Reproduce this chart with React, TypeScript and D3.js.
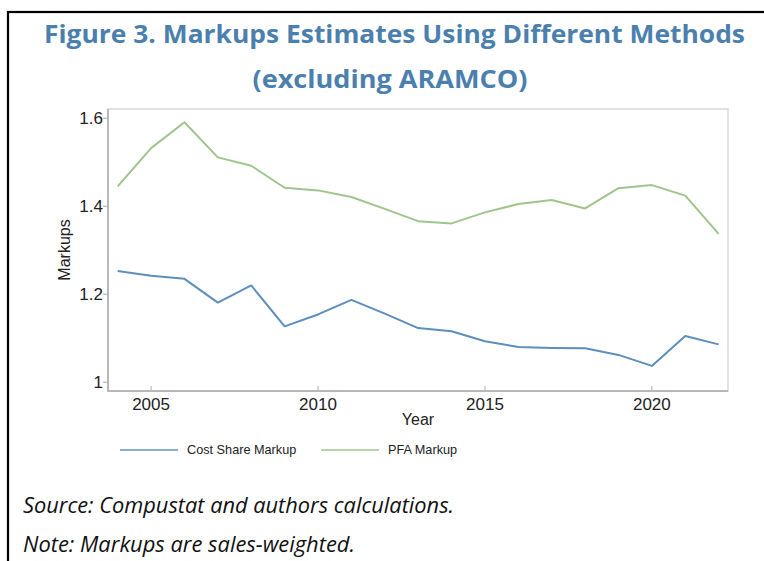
import React from 'react';
import * as d3 from 'd3';

const years = [2004, 2005, 2006, 2007, 2008, 2009, 2010, 2011, 2012, 2013, 2014, 2015, 2016, 2017, 2018, 2019, 2020, 2021, 2022];
const costShareMarkup = [1.253, 1.242, 1.235, 1.181, 1.220, 1.127, 1.154, 1.187, 1.156, 1.123, 1.116, 1.093, 1.080, 1.078, 1.077, 1.062, 1.037, 1.105, 1.086];
const pfaMarkup = [1.445, 1.532, 1.591, 1.511, 1.492, 1.442, 1.436, 1.421, 1.394, 1.366, 1.361, 1.386, 1.405, 1.414, 1.395, 1.441, 1.448, 1.424, 1.337];
const xTicks = [2005, 2010, 2015, 2020];
const yTicks = [1, 1.2, 1.4, 1.6];
const seriesNames = ['Cost Share Markup', 'PFA Markup'];

const W = 764;
const H = 561;
const plot = { left: 108, right: 728, top: 109, bottom: 391 };

const BLUE = '#5c8ebe';
const GREEN = '#9fc48c';
const TITLE = '#4b7fae';
const AXIS = '#b8b8b8';

function App() {
  const x = d3.scaleLinear().domain([2003.71, 2022.28]).range([plot.left, plot.right]);
  const y = d3.scaleLinear().domain([0.98, 1.621]).range([plot.bottom, plot.top]);

  const line = d3.line<number>()
    .x((_, i) => x(years[i]))
    .y(d => y(d));

  const tickFont = { fontFamily: '"Liberation Sans", Arial, sans-serif', fontSize: 17, fill: '#222' };

  return (
    <svg width={W} height={H} style={{ position: 'absolute', left: 0, top: 0, background: '#fff' }}>
      {/* outer frame, runs off the page on the right and bottom */}
      <rect x={8} y={12} width={W + 20} height={H + 20} fill="#fff" stroke="#000" strokeWidth={2.2} />

      {/* title */}
      <g fontFamily='"Open Sans", sans-serif' fontWeight="bold" fill={TITLE} fontSize={25}>
        <text x={44} y={43} textLength={701} lengthAdjust="spacingAndGlyphs">
          Figure 3. Markups Estimates Using Different Methods
        </text>
        <text x={390} y={88} textAnchor="middle" textLength={275} lengthAdjust="spacingAndGlyphs">
          (excluding ARAMCO)
        </text>
      </g>

      {/* plot frame */}
      <rect x={plot.left} y={plot.top} width={plot.right - plot.left} height={plot.bottom - plot.top}
        fill="#fff" stroke="#d9d9d9" strokeWidth={1.5} />
      <line x1={plot.left} x2={plot.left} y1={plot.top} y2={plot.bottom + 1} stroke={AXIS} strokeWidth={2} />
      <line x1={plot.left} x2={plot.right} y1={plot.bottom} y2={plot.bottom} stroke={AXIS} strokeWidth={2} />

      {/* y axis */}
      {yTicks.map(t => (
        <g key={t}>
          <line x1={plot.left - 5} x2={plot.left} y1={y(t)} y2={y(t)} stroke={AXIS} strokeWidth={1.2} />
          <text x={plot.left - 5} y={y(t) + 6} textAnchor="end" {...tickFont}>{d3.format('~g')(t)}</text>
        </g>
      ))}
      <text transform={`translate(70,${(plot.top + plot.bottom) / 2}) rotate(-90)`} textAnchor="middle"
        fontFamily='"Liberation Sans", Arial, sans-serif' fontSize={16} fill="#222">Markups</text>

      {/* x axis */}
      {xTicks.map(t => (
        <g key={t}>
          <line x1={x(t)} x2={x(t)} y1={plot.bottom - 5} y2={plot.bottom} stroke={AXIS} strokeWidth={1.2} />
          <text x={x(t)} y={410} textAnchor="middle" {...tickFont}>{t}</text>
        </g>
      ))}
      <text x={(plot.left + plot.right) / 2} y={425} textAnchor="middle"
        fontFamily='"Liberation Sans", Arial, sans-serif' fontSize={16} fill="#222">Year</text>

      {/* series */}
      <path d={line(pfaMarkup) || ''} fill="none" stroke={GREEN} strokeWidth={2} strokeLinejoin="round" />
      <path d={line(costShareMarkup) || ''} fill="none" stroke={BLUE} strokeWidth={2} strokeLinejoin="round" />

      {/* legend */}
      <g fontFamily='"Liberation Sans", Arial, sans-serif' fontSize={12.7} fill="#222">
        <line x1={120} x2={178} y1={450} y2={450} stroke="#8aafd2" strokeWidth={2} />
        <text x={187} y={454}>{seriesNames[0]}</text>
        <line x1={321} x2={379} y1={450} y2={450} stroke="#b8d6a8" strokeWidth={2} />
        <text x={388} y={454}>{seriesNames[1]}</text>
      </g>

      {/* notes */}
      <g fontFamily='"Open Sans", sans-serif' fontStyle="italic" fontSize={22} fill="#111">
        <text x={23} y={513} textLength={431} lengthAdjust="spacingAndGlyphs">Source: Compustat and authors calculations.</text>
        <text x={23} y={552} textLength={332} lengthAdjust="spacingAndGlyphs">Note: Markups are sales-weighted.</text>
      </g>
    </svg>
  );
}

export default App;
